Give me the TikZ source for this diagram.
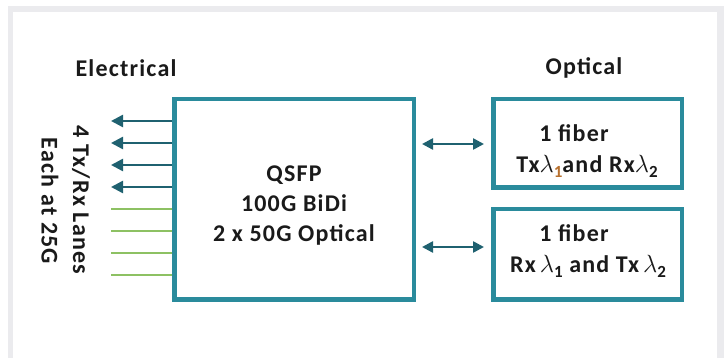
\documentclass[tikz,border=0pt]{standalone}
\usepackage{fontspec}
\setmainfont{Carlito}[LetterSpace=5]
\usetikzlibrary{arrows.meta}
\definecolor{framegray}{HTML}{EBEBEE}
\definecolor{boxteal}{HTML}{2A8B9C}
\definecolor{arrowteal}{HTML}{1F6170}
\definecolor{lanegreen}{HTML}{8DC163}
\definecolor{inkdark}{HTML}{1A1A1A}
\definecolor{subtint}{HTML}{B8702E}
\tikzset{
  blockbox/.style={draw=boxteal, line width=4.5pt, rectangle, inner sep=0pt},
  label/.style={font=\fontsize{24}{30}\selectfont\bfseries, text=inkdark, inner sep=0pt},
  lanearrow/.style={draw=arrowteal, line width=2.5pt, -{Triangle[length=12pt,width=12pt]}},
  laneplain/.style={draw=lanegreen, line width=2.5pt},
  biarrow/.style={draw=arrowteal, line width=2.5pt, {Triangle[length=11pt,width=11pt]}-{Triangle[length=11pt,width=11pt]}},
}
% wavelength symbol with a text-style subscript
\newcommand{\lam}[1]{{\fontsize{27}{27}\selectfont$\lambda$}\raisebox{-5pt}{\fontsize{17}{17}\selectfont #1}}
\begin{document}
\begin{tikzpicture}[x=1pt,y=-1pt]
\useasboundingbox (0,0) rectangle (724,358);
% panel frame
\fill[framegray] (8,6) rectangle (724,358);
\fill[white] (13,12) rectangle (717,358);

% headings
\node[label] (elec) at (126,68) {Electrical};
\node[label] (opt) at (584,68) {Optical};

% transceiver block
\node[blockbox, minimum width=239.5pt, minimum height=200.5pt] (qsfp) at (294,199.5) {};
\node[label, align=center] (qtext) at (294,206) {QSFP\\100G BiDi\\2 x 50G Optical};

% fiber blocks
\node[blockbox, minimum width=188.5pt, minimum height=88.5pt] (fa) at (587.5,143.5) {};
\node[blockbox, minimum width=188.5pt, minimum height=90.5pt] (fb) at (587.5,254.5) {};
\node[label, anchor=base] (fa1) at (574,142) {1 fiber};
\node[label, anchor=base] (fa2) at (587,173) {Tx\lam{\textcolor{subtint}{1}}and Rx\lam{2}};
\node[label, anchor=base] (fb1) at (574,242) {1 fiber};
\node[label, anchor=base] (fb2) at (588,273) {Rx\,\lam{1} and Tx\,\lam{2}};

% bidirectional optical links
\coordinate (pa) at (fa.west |- 0,144);
\coordinate (pb) at (fb.west |- 0,247);
\draw[biarrow, shorten <=6pt, shorten >=7pt] (qsfp.east |- pa) -- (pa);
\draw[biarrow, shorten <=6pt, shorten >=7pt] (qsfp.east |- pb) -- (pb);

% electrical lanes
\foreach \i/\y in {1/121,2/143,3/165,4/187,5/209,6/231,7/253,8/275}
  \coordinate (lane\i) at (111,\y);
\foreach \i in {1,...,4}
  \draw[lanearrow] (qsfp.west |- lane\i) -- (lane\i);
\foreach \i in {5,...,8}
  \draw[laneplain] (qsfp.west |- lane\i) -- (lane\i);

% lane captions
\node[label, rotate=-90] (lanes) at (81,200) {4 Tx/Rx Lanes};
\node[label, rotate=-90] (rate) at (50,201) {Each at 25G};
\end{tikzpicture}
\end{document}
